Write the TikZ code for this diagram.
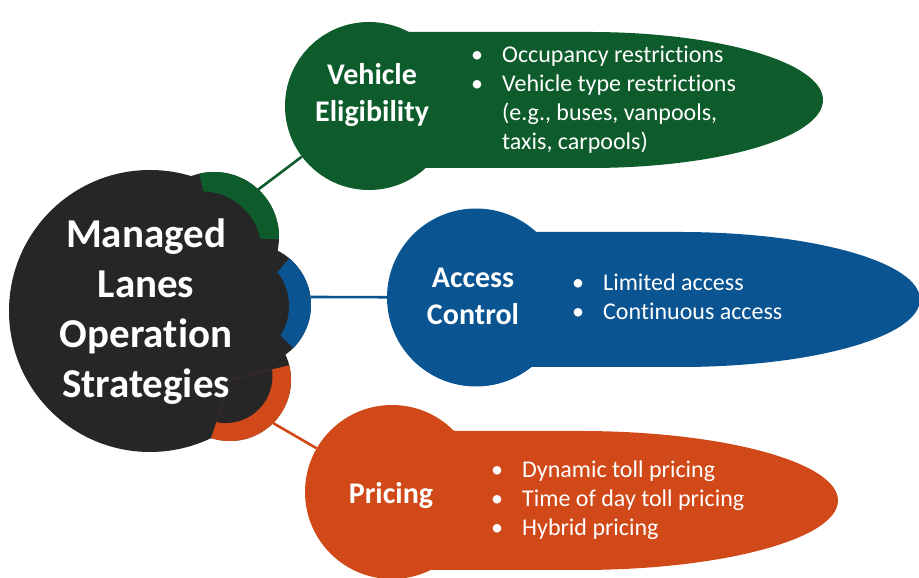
\documentclass[tikz,border=0pt]{standalone}
\usepackage{fontspec}
\setmainfont{Carlito}[Ligatures=NoCommon]
\usepackage{tikz}
\usepackage{xcolor}
\definecolor{mlblack}{RGB}{38, 38, 38}
\definecolor{mlgreen}{RGB}{14, 92, 43}
\definecolor{mlblue}{RGB}{10, 84, 145}
\definecolor{mlorange}{RGB}{209, 73, 24}
\tikzset{
    hubdisc/.style={circle, fill=mlblack, minimum size=282pt, inner sep=0pt},
    hubtext/.style={text=white, align=center, font=\fontsize{41}{50}\selectfont\bfseries},
    headdisc/.style={circle, inner sep=0pt},
    titletext/.style={text=white, align=center, font=\fontsize{30}{37}\selectfont\bfseries},
    itemtext/.style={text=white, align=left, anchor=west, inner sep=0pt, font=\fontsize{24}{29}\selectfont},
    tie/.style={line width=2.6pt}
}
\newcommand{\mlbullet}{\makebox[31pt][l]{\textbullet}}
\newcommand{\mlindent}{\hspace*{31pt}}

\begin{document}
\begin{tikzpicture}[x=1pt, y=1pt]
                    \clip (0,0) rectangle (919,578);

                    \coordinate (veLobe) at (214,341);
                    \coordinate (acLobe) at (250,273);
                    \coordinate (prLobe) at (230,198);
                    \node[hubdisc] (hub) at (150,267) {};
                    \fill[mlblack] (veLobe) circle[radius=65] (acLobe) circle[radius=61] (prLobe) circle[radius=61];

                    \begin{scope}
                        \clip (veLobe) -- ++(-2:100) arc[start angle=-2, end angle=103, radius=100] -- cycle;
                        \fill[mlgreen] (veLobe) circle[radius=65];
                        \fill[mlblack] (201.6,326.6) circle[radius=60];
                    \end{scope}
                    \begin{scope}
                        \clip (acLobe) -- ++(-45:100) arc[start angle=-45, end angle=50, radius=100] -- cycle;
                        \fill[mlblue] (acLobe) circle[radius=61];
                        \fill[mlblack] (234,272) circle[radius=55];
                    \end{scope}
                    \begin{scope}
                        \clip (prLobe) -- ++(-108:100) arc[start angle=-108, end angle=14, radius=100] -- cycle;
                        \fill[mlorange] (prLobe) circle[radius=61];
                        \fill[mlblack] (225.5,201.9) circle[radius=47];
                    \end{scope}
                    \node[hubtext] (hubLabel) at (146,266) {Managed\\Lanes\\Operation\\Strategies};

                    \coordinate (veTie) at (258.3,388.5);
                    \coordinate (acTie) at (310.5,281);
                    \coordinate (prTie) at (273,155);

                    \fill[mlgreen] (369,546) -- (590,546) arc[start angle=90, end angle=-90, x radius=233, y radius=68] -- (369,410) -- cycle;
                    \fill[mlblue] (476,346) -- (680,346) arc[start angle=90, end angle=-90, x radius=240, y radius=67.5] -- (476,211) -- cycle;
                    \fill[mlorange] (392,147) -- (580,147) arc[start angle=90, end angle=-90, x radius=258, y radius=69.5] -- (392,8) -- cycle;
                    \node[headdisc, fill=mlgreen, minimum size=168pt] (veHead) at (369,472) {};
                    \node[headdisc, fill=mlblue, minimum size=178pt] (acHead) at (476,280.5) {};
                    \node[headdisc, fill=mlorange, minimum size=174pt] (prHead) at (392,86) {};

                    \node[titletext] (veTitle) at (372,483) {Vehicle\\Eligibility};
                    \node[titletext] (acTitle) at (473,281.5) {Access\\Control};
                    \node[titletext] (prTitle) at (391,82) {Pricing};

                    \node[itemtext] (veList) at (471,478) {\mlbullet Occupancy restrictions\\ \mlbullet Vehicle type restrictions\\ \mlindent(e.g., buses, vanpools,\\ \mlindent taxis, carpools)};
                    \node[itemtext] (acList) at (572,281) {\mlbullet Limited access\\ \mlbullet Continuous access};
                    \node[itemtext] (prList) at (491,77.5) {\mlbullet Dynamic toll pricing\\ \mlbullet Time of day toll pricing\\ \mlbullet Hybrid pricing};

                    \draw[tie, mlgreen] (veTie) -- (veHead);
                    \draw[tie, mlblue] (acTie) -- (acHead);
                    \draw[tie, mlorange] (prTie) -- (prHead);
                \end{tikzpicture}
\end{document}
